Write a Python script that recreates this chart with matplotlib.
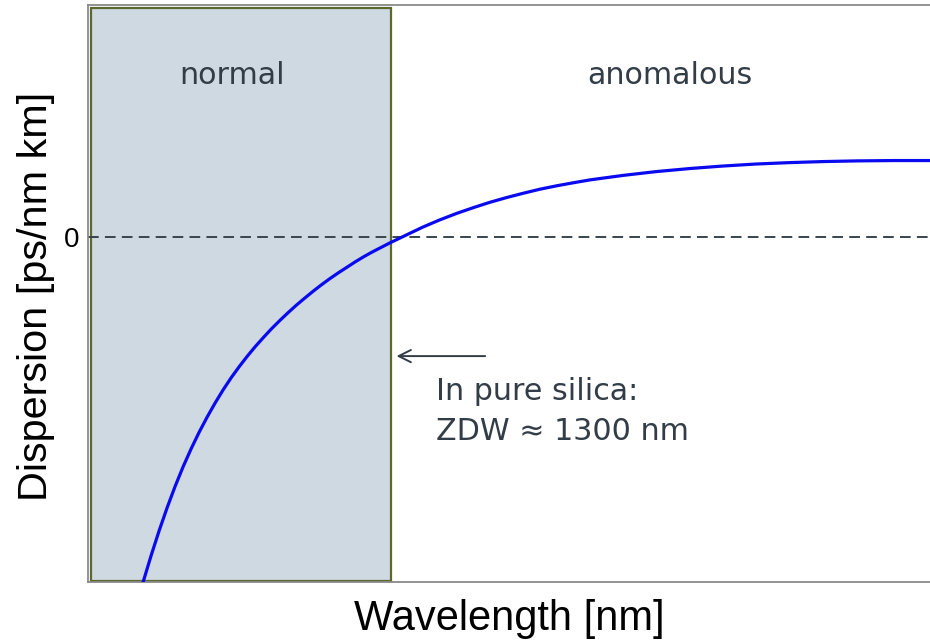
import matplotlib
matplotlib.use("Agg")
import matplotlib.pyplot as plt
from matplotlib.patches import Rectangle

# Dispersion curve of a silica fibre (wavelength in nm, D in ps/(nm km))
wavelength = [1050, 1058, 1066, 1074, 1082, 1090, 1098, 1106, 1114, 1122,
              1130, 1138, 1146, 1154, 1162, 1170, 1178, 1187, 1195, 1203,
              1212, 1220, 1228, 1236, 1245, 1253, 1262, 1270, 1278, 1286,
              1296, 1306, 1329, 1346, 1363, 1380, 1396, 1413, 1429, 1446,
              1463, 1480, 1496, 1529, 1562, 1596, 1628, 1662, 1695, 1728,
              1762, 1800, 1835]
dispersion = [-100.0, -92.3, -85.1, -78.4, -72.2, -66.5, -61.3, -56.5, -52.1, -48.0,
              -44.2, -40.7, -37.5, -34.5, -31.7, -29.1, -26.6, -24.0, -21.8, -19.7,
              -17.5, -15.6, -13.8, -12.1, -10.3, -8.8, -7.1, -5.7, -4.4, -3.2,
              -1.7, -0.3, 2.9, 5.0, 6.9, 8.6, 10.1, 11.5, 12.7, 13.9,
              14.9, 15.8, 16.6, 17.9, 19.0, 19.9, 20.6, 21.2, 21.6, 21.9,
              22.1, 22.2, 22.2]

zdw = 1300
normal_region = (998, 1297)
y_ticks = [0]
y_tick_labels = ["0"]

text_color = "#333d47"
ann_font = ["DejaVu Sans"]
label_font = ["Liberation Sans", "DejaVu Sans"]

fig = plt.figure(figsize=(9.30, 6.41), dpi=100)
ax = fig.add_axes([88 / 930, 59 / 641, 842 / 930, 577 / 641])
ax.set_xlim(995, 1835)
ax.set_ylim(-100, 67.3)

# shaded normal-dispersion region
ax.add_patch(Rectangle((normal_region[0], -99.7), normal_region[1] - normal_region[0], 166.1,
                       facecolor="#cfd9e1", edgecolor="#5b6a2c", linewidth=1.6, zorder=1))

ax.axhline(0, color="#3a444c", linestyle=(0, (5.5, 3.2)), linewidth=1.4, zorder=2)
ax.plot(wavelength, dispersion, color="#0a0af0", linewidth=2.3, zorder=3,
        solid_joinstyle="round")

for side in ["left", "bottom", "top"]:
    ax.spines[side].set_color("#8a8a8a")
    ax.spines[side].set_linewidth(1.3)
ax.spines["right"].set_visible(False)

ax.set_xticks([])
ax.set_yticks(y_ticks)
ax.set_yticklabels(y_tick_labels, fontsize=20, family=label_font)
ax.tick_params(axis="y", direction="in", length=5, color="#8a8a8a", pad=6)

ax.set_xlabel("Wavelength [nm]", fontsize=30, family=label_font, labelpad=12)
ax.set_ylabel("Dispersion [ps/nm km]", fontsize=29.8, family=label_font)
ax.yaxis.set_label_coords(-0.039, 0.495)

ax.text(1139, 44.4, "normal", fontsize=21.7, family=ann_font, color=text_color,
        ha="center", va="baseline")
ax.text(1575, 44.4, "anomalous", fontsize=21.7, family=ann_font, color=text_color,
        ha="center", va="baseline")

ax.annotate("", xy=(zdw, -34.5), xytext=(1394, -34.5),
            arrowprops=dict(arrowstyle="->", color="#333d47", lw=1.4,
                            mutation_scale=22))
ax.text(1342, -47.2, "In pure silica:", fontsize=21.7, family=ann_font,
        color=text_color, ha="left", va="baseline")
ax.text(1342, -58.8, "ZDW \u2248 1300 nm", fontsize=21.7, family=ann_font,
        color=text_color, ha="left", va="baseline")

fig.savefig("out.png", dpi=100)
